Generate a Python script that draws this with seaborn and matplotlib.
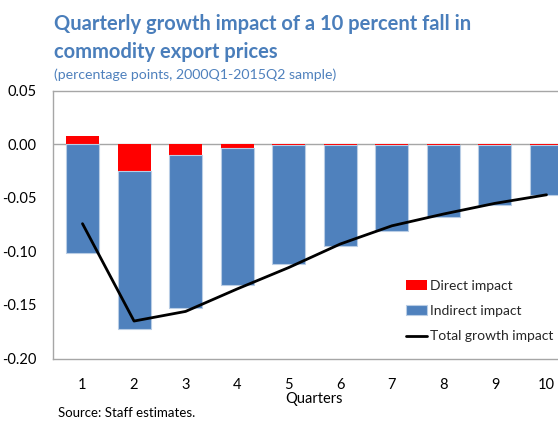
import numpy as np
import pandas as pd
import matplotlib
matplotlib.use("Agg")
import matplotlib.pyplot as plt
import seaborn as sns

quarters = ["1", "2", "3", "4", "5", "6", "7", "8", "9", "10"]
direct = [0.008, -0.025, -0.010, -0.003, -0.0006, -0.0006, -0.0006, -0.0006, -0.0006, -0.0006]
indirect = [-0.101, -0.147, -0.143, -0.128, -0.111, -0.094, -0.080, -0.067, -0.056, -0.047]
total = [-0.074, -0.165, -0.156, -0.135, -0.115, -0.093, -0.076, -0.065, -0.055, -0.047]
yticks = [0.05, 0.00, -0.05, -0.10, -0.15, -0.20]

sns.set_theme(style="white")
plt.rcParams['font.family'] = ['Lato', 'DejaVu Sans']

df = pd.DataFrame({"quarter": quarters, "direct": direct, "indirect": indirect, "total": total})
df["base"] = np.minimum(df["direct"], 0)

fig = plt.figure(figsize=(5.58, 4.24), dpi=100)
ax = fig.add_axes([53/558, (424-358.5)/424, (576-53)/558, 267.5/424])

blue = "#4f81bd"
red = "#ff0000"

sns.barplot(data=df, x="quarter", y="direct", color=red, width=0.64,
            saturation=1, ax=ax, label="Direct impact", linewidth=0)
sns.barplot(data=df, x="quarter", y="indirect", color=blue, width=0.64,
            saturation=1, ax=ax, label="Indirect impact", bottom=df["base"].values,
            edgecolor="#b9cde5", linewidth=0.8)
sns.lineplot(x=np.arange(len(quarters)), y=df["total"], color="black",
             linewidth=2.0, ax=ax, label="Total growth impact")

ax.set_xlim(-0.572, 9.572)
ax.set_ylim(-0.20, 0.05)
ax.set_yticks(yticks)
ax.set_yticklabels([f"{v:.2f}" for v in yticks])
ax.axhline(0, color="#a6a6a6", linewidth=1.0, zorder=0.5)
for s in ["left", "top", "bottom", "right"]:
    ax.spines[s].set_color("#a6a6a6")
    ax.spines[s].set_linewidth(1.0)
ax.tick_params(axis="both", length=0, labelsize=10.5, colors="black")
ax.tick_params(axis="x", pad=14)
ax.tick_params(axis="y", pad=12)
ax.set_xlabel("Quarters", fontsize=10.5, labelpad=0, color="black")
ax.set_ylabel("")

handles, labels = ax.get_legend_handles_labels()
order = [labels.index(n) for n in ["Direct impact", "Indirect impact", "Total growth impact"]]
leg = ax.legend([handles[i] for i in order], [labels[i] for i in order],
                loc="upper left", bbox_to_anchor=(406/558, (424-280)/424),
                bbox_transform=fig.transFigure, frameon=False, fontsize=10,
                handlelength=1.5, handletextpad=0.2, labelspacing=0.95,
                borderaxespad=0, borderpad=0)

fig.text(54/558, 1-24/424, "Quarterly growth impact of a 10 percent fall in",
         fontsize=14.5, fontweight="bold", color="#4a7ebb", va="center", ha="left")
fig.text(54/558, 1-52/424, "commodity export prices",
         fontsize=14.5, fontweight="bold", color="#4a7ebb", va="center", ha="left")
fig.text(54/558, 1-75/424, "(percentage points, 2000Q1-2015Q2 sample)",
         fontsize=10.2, color="#4f81bd", va="center", ha="left")
fig.text(58/558, 1-413/424, "Source: Staff estimates.", fontsize=9.5,
         color="black", va="center", ha="left")

fig.savefig("out.png", dpi=100)
